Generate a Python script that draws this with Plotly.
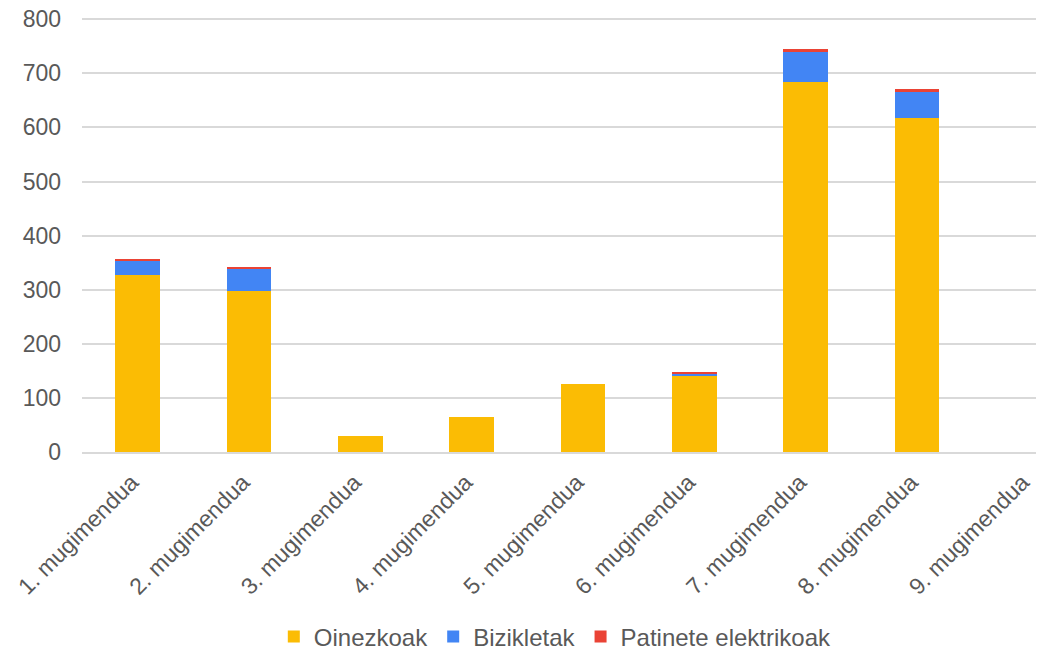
import plotly.graph_objects as go

categories = [f"{i}. mugimendua" for i in range(1, 10)]
oinezkoak = [328, 297, 30, 65, 125, 141, 684, 618, 0]
bizikletak = [25, 42, 0, 0, 0, 4, 55, 48, 0]
patineteak = [4, 3, 0, 0, 0, 3, 6, 5, 0]

series = [
    ("Oinezkoak", oinezkoak, "#FBBC04"),
    ("Bizikletak", bizikletak, "#4285F4"),
    ("Patinete elektrikoak", patineteak, "#EA4335"),
]

fig = go.Figure()
for name, vals, color in series:
    fig.add_trace(go.Bar(x=categories, y=vals, name=name, marker_color=color,
                         marker_line_width=0))

# page body adds an 8px margin, so the figure starts at (8, 8) in the window
fig.update_layout(
    barmode="stack",
    bargap=0.6,
    width=1036, height=645,
    margin=dict(l=74, r=0, t=10, b=201, autoexpand=False),
    paper_bgcolor="white", plot_bgcolor="white",
    font=dict(family="Liberation Sans, Arial, sans-serif", size=23, color="#595959"),
    legend=dict(orientation="h", x=0.492, xanchor="center", y=-0.426, yanchor="middle",
                font=dict(size=24, color="#595959"), itemwidth=30, traceorder="normal"),
    showlegend=True,
)
fig.update_xaxes(range=[-0.5, 8.14], tickangle=-45, showgrid=False, automargin=False,
                 showline=True, linecolor="#d9d9d9", linewidth=1.5, ticks="",
                 ticklabelstandoff=6, ticklabelshift=-6, ticklabeloverflow="allow")
fig.update_yaxes(range=[0, 802.3], dtick=100, gridcolor="#d9d9d9", gridwidth=1.5,
                 zeroline=False, ticks="", ticklabelstandoff=20, automargin=False,
                 ticklabeloverflow="allow")

fig.write_html("out.html")
